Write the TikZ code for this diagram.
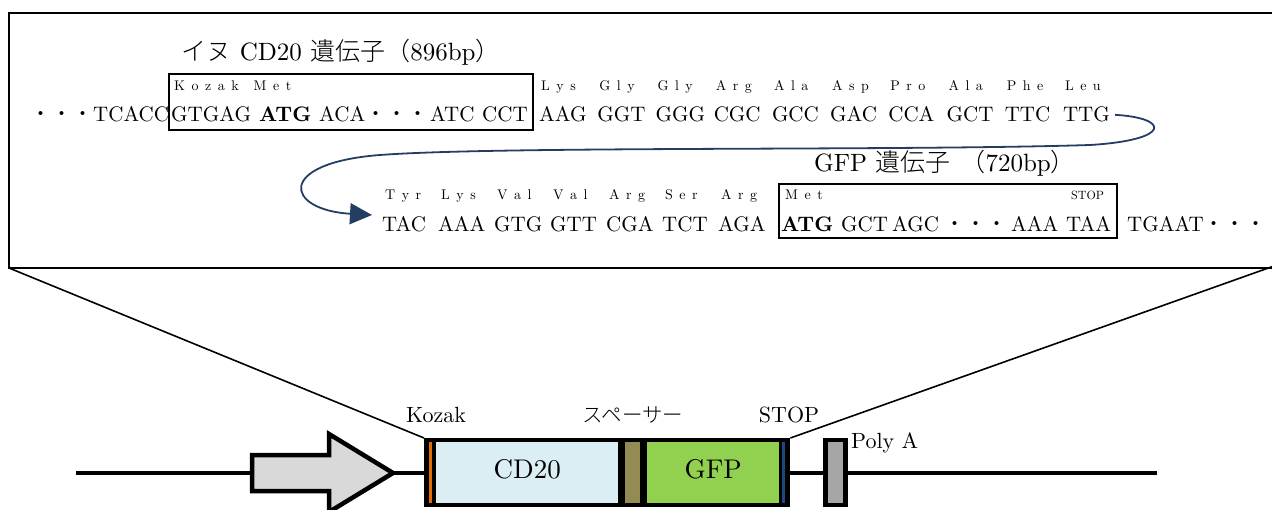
\documentclass[tikz,border=0pt]{standalone}
\usepackage{fontspec}
\setmainfont{lmroman10}[Extension=.otf, UprightFont=*-regular, BoldFont=*-bold,
  ItalicFont=*-italic, BoldItalicFont=*-bolditalic]
\IfFontExistsTF{Noto Sans CJK JP Light}
  {\newfontfamily\jp{Noto Sans CJK JP Light}}
  {\newfontfamily\jp{Noto Sans CJK JP}}
\usetikzlibrary{arrows.meta}
\definecolor{curvecol}{RGB}{36,62,99}
\definecolor{cdblue}{RGB}{218,238,243}
\definecolor{spacercol}{RGB}{148,138,84}
\definecolor{gfpgreen}{RGB}{146,208,80}
\definecolor{kozakcol}{RGB}{227,108,9}
\definecolor{stopcol}{RGB}{31,73,125}
\definecolor{polyacol}{RGB}{166,166,166}
\definecolor{promcol}{RGB}{217,217,217}
\newcommand\tri[3]{#1\hspace{6.5pt}#2\hspace{6.5pt}#3}
\newcommand\tdots{{\jp ・・・}}
\begin{document}
\begin{tikzpicture}[x=1pt,y=-1pt,
  seq/.style={inner sep=0pt, anchor=base west, font=\fontsize{21}{24}\selectfont},
  aa/.style={inner sep=0pt, anchor=base west, font=\fontsize{14}{16}\selectfont},
  head/.style={inner sep=0pt, font=\fontsize{25}{28}\selectfont},
  lbl/.style={inner sep=0pt, font=\fontsize{22}{24}\selectfont},
  genebox/.style={draw, line width=1.6pt},
  curve/.style={draw=curvecol, line width=1.8pt, -{Triangle[length=22pt,width=21pt]}},
  part/.style={inner sep=0pt, anchor=north west},
  ]
\useasboundingbox (0,0) rectangle (1272,510);

% detail frame
\coordinate (frameBL) at (9,268);
\coordinate (frameBR) at (1274,268);
\draw[line width=2.2pt] (frameBR) -- (frameBL) -- (9,13) -- (1274,13);

% headings
\node[head] (cdhead) at (341,52) {{\jp イヌ} CD20 {\jp 遺伝子（}896bp{\jp ）}};
\node[head] (gfphead) at (945,163) {GFP {\jp 遺伝子}\hspace{10pt}{\jp （}720bp{\jp ）}};

% first sequence row
\node[seq] (s1a) at (30,122) {\tdots};
\node[seq] (s1b) at (93,122) {TCACC};
\node[seq] (s1c) at (171,122) {GTGAG};
\node[seq] (s1atg) at (259,122) {\bfseries ATG};
\node[seq] (s1d) at (319,122) {ACA};
\node[seq] (s1e) at (365,122) {\tdots};
\node[seq] (s1f) at (430,122) {ATC};
\node[seq] (s1g) at (482,122) {CCT};
\foreach \t [count=\i] in {AAG,GGT,GGG,CGC,GCC,GAC,CCA,GCT,TTC,TTG}
  \node[seq] (s1c\i) at ({539+58.2*(\i-1)},122) {\t};
\node[aa] (kozakmet) at (174,91) {K\hspace{6.5pt}o\hspace{6.5pt}z\hspace{6.5pt}a\hspace{6.5pt}k\hspace{15pt}\tri Met};
\foreach \a/\b/\c [count=\i] in {L/y/s,G/l/y,G/l/y,A/r/g,A/l/a,A/s/p,P/r/o,A/l/a,P/h/e,L/e/u}
  \node[aa] (a1c\i) at ({541+58.2*(\i-1)},91) {\tri\a\b\c};
\draw[genebox] (169,74) rectangle (533,130);

% second sequence row
\foreach \t [count=\i] in {TAC,AAA,GTG,GTT,CGA,TCT,AGA}
  \node[seq] (s2c\i) at ({382+56*(\i-1)},232) {\t};
\foreach \a/\b/\c [count=\i] in {T/y/r,L/y/s,V/a/l,V/a/l,A/r/g,S/e/r,A/r/g}
  \node[aa] (a2c\i) at ({385+56*(\i-1)},200) {\tri\a\b\c};
\node[seq] (s2atg) at (781,232) {\bfseries ATG};
\node[seq] (s2b) at (841,232) {GCT};
\node[seq] (s2c) at (892,232) {AGC};
\node[seq] (s2d) at (944,232) {\tdots};
\node[seq] (s2e) at (1011,232) {AAA};
\node[seq] (s2f) at (1066,232) {TAA};
\node[seq] (s2g) at (1127,232) {TGAAT};
\node[seq] (s2h) at (1203,232) {\tdots};
\node[aa] (met2) at (785,200) {\tri Met};
\node[aa, font=\fontsize{12}{13}\selectfont] (stop2) at (1071,200) {STOP};
\draw[genebox] (779,184) rectangle (1117,238);

% reading continues on the next row
\coordinate (tip) at (372,215);
\draw[curve] ([xshift=5pt]s1c10.east) .. controls (1170,118) and (1172,140) .. (1090,145)
  .. controls (900,151) and (500,146) .. (380,155)
  .. controls (275,163) and (285,210) .. (tip);

% construct: backbone
\coordinate (lineL) at (76,473);
\coordinate (lineR) at (1157,473);
\draw[line width=4.5pt] (lineL) -- (lineR);

% promoter arrow
\draw[line width=4.5pt, fill=promcol, line join=miter]
  (252,455) -- (329,455) -- (329,434) -- (393,473) -- (329,512) -- (329,491) -- (252,491) -- cycle;

% coding cassette
\node[part, fill=black, minimum width=366pt, minimum height=69pt] (construct) at (424,438) {};
\node[part, fill=kozakcol, minimum width=3.5pt, minimum height=61pt] (kozakbar) at (428.5,442) {};
\node[part, fill=cdblue, minimum width=182pt, minimum height=61pt] (cd20) at (436,442) {};
\node[part, fill=spacercol, minimum width=15pt, minimum height=61pt] (spacer) at (625,442) {};
\node[part, fill=gfpgreen, minimum width=132pt, minimum height=61pt] (gfp) at (647,442) {};
\node[part, fill=stopcol, minimum width=3pt, minimum height=61pt] (stopbar) at (781.5,442) {};
\node[lbl, font=\fontsize{27}{30}\selectfont] at ([yshift=3pt]cd20.center) {CD20};
\node[lbl, font=\fontsize{27}{30}\selectfont] at ([yshift=3pt]gfp.center) {GFP};

% poly A signal
\node[part, fill=black, minimum width=25pt, minimum height=69pt] (polyabox) at (823,438) {};
\node[part, fill=polyacol, minimum width=15pt, minimum height=61pt] (polya) at (828,442) {};

% labels
\node[lbl] (kozaklbl) at (436,415) {Kozak};
\node[lbl, font=\jp\fontsize{20.5}{24}\selectfont] (spacerlbl) at (633,415) {スペーサー};
\node[lbl] (stoplbl) at (789,415) {STOP};
\node[lbl, anchor=west] (polyalbl) at (851,443) {Poly A};

% zoom lines
\draw[line width=1.6pt] (frameBL) -- (construct.north west);
\draw[line width=1.6pt] ([yshift=2pt]frameBR) -- (construct.north east);
\end{tikzpicture}
\end{document}
